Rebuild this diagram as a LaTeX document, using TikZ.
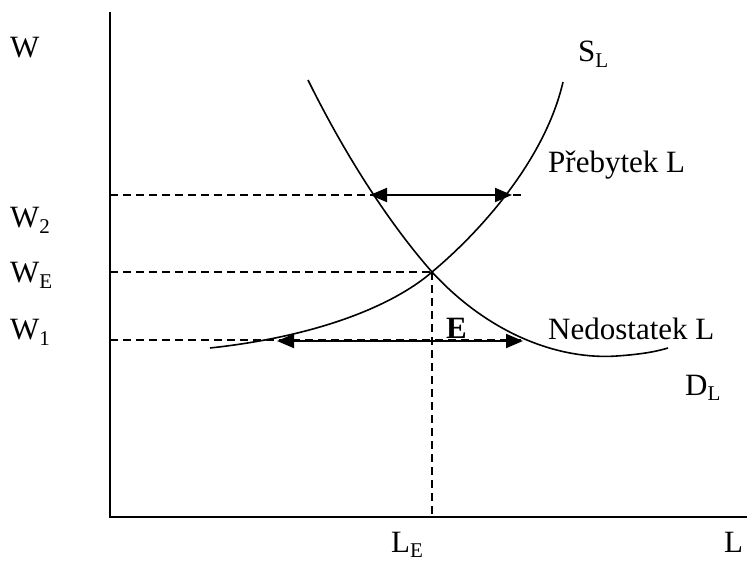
\documentclass[tikz,border=0pt]{standalone}
\usepackage{fontspec}
\setmainfont{Liberation Serif}
\usetikzlibrary{arrows.meta}
\newcommand{\lsub}[1]{\raisebox{-0.18em}{\fontsize{21}{21}\selectfont #1}}
\tikzset{
  axisline/.style={line width=2pt},
  curveline/.style={line width=1.6pt},
  guide/.style={line width=1.2pt, dash pattern=on 8pt off 5pt},
  dblarrow/.style={line width=2pt, {Triangle[length=17pt,width=14pt]}-{Triangle[length=17pt,width=14pt]}},
  lbl/.style={inner sep=0pt, font=\fontsize{31}{36}\selectfont},
}
\begin{document}
\begin{tikzpicture}[x=1pt,y=-1pt]
\useasboundingbox (0,0) rectangle (747,561);
% axes
\coordinate (O) at (110,517);
\coordinate (Ytop) at (110,12);
\coordinate (Xend) at (747,517);
\draw[axisline] (Ytop) -- (O) -- (Xend);
% key points
\coordinate (E) at (432,272);
\coordinate (W2a) at (110,195);
\coordinate (W2b) at (525,195);
\coordinate (WEa) at (110,272);
\coordinate (W1a) at (110,340);
\coordinate (W1b) at (525,340);
\coordinate (LEb) at (432,517);
% guides
\draw[guide] (W2a) -- (W2b);
\draw[guide] (WEa) -- (E);
\draw[guide] (W1a) -- (W1b);
\draw[guide] (E) -- (LEb);
% supply curve
\coordinate (S0) at (210,348);
\coordinate (S1) at (563,82);
\draw[curveline] (S0) .. controls (330,335) and (400,300) .. (E)
  .. controls (480,232) and (545,160) .. (S1);
% demand curve
\coordinate (D0) at (308,80);
\coordinate (Dm) at (617,356);
\coordinate (D1) at (668,348);
\draw[curveline] (D0) .. controls (350,165) and (395,230) .. (E)
  .. controls (490,335) and (560,360) .. (Dm)
  .. controls (645,354) and (658,351) .. (D1);
% arrows
\coordinate (UA) at (370,195);
\coordinate (UB) at (512,195);
\coordinate (LA) at (277,341);
\coordinate (LB) at (523,341);
\draw[dblarrow] (UA) -- (UB);
\draw[dblarrow] (LA) -- (LB);
% labels
\node[lbl, anchor=base west] (w) at (10,58) {W};
\node[lbl, anchor=base west] (w2) at (10,228) {W\lsub{2}};
\node[lbl, anchor=base west] (we) at (10,283) {W\lsub{E}};
\node[lbl, anchor=base west] (w1) at (10,340) {W\lsub{1}};
\node[lbl, anchor=base west] (sl) at (578,62) {S\lsub{L}};
\node[lbl, anchor=base west] (pr) at (548,173) {Přebytek L};
\node[lbl, font=\fontsize{31}{36}\selectfont\bfseries, anchor=base west] (ee) at (446,338) {E};
\node[lbl, anchor=base west] (ne) at (548,339) {Nedostatek L};
\node[lbl, anchor=base west] (dl) at (685,395) {D\lsub{L}};
\node[lbl, anchor=base west] (le) at (391,552) {L\lsub{E}};
\node[lbl, anchor=base west] (ll) at (724,552) {L};
\end{tikzpicture}
\end{document}
